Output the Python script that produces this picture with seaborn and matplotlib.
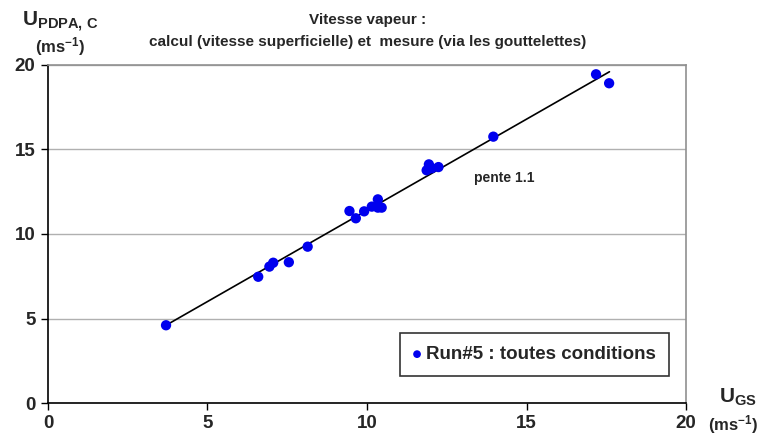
import matplotlib
matplotlib.use("Agg")
import matplotlib.pyplot as plt
import seaborn as sns
import pandas as pd

# vitesse superficielle calculée (U_GS) et vitesse mesurée PDPA
u_gs = [3.70, 6.59, 6.94, 7.06, 7.55, 8.14, 9.45, 9.65, 9.91, 10.15, 10.34, 10.34,
        10.46, 11.87, 11.94, 12.03, 12.24, 13.96, 17.18, 17.59]
u_pdpa = [4.60, 7.47, 8.07, 8.30, 8.33, 9.25, 11.36, 10.93, 11.34, 11.62, 12.05, 11.56,
          11.56, 13.77, 14.12, 13.89, 13.96, 15.76, 19.45, 18.92]

# droite de tendance (pente 1.1)
ligne_x = [3.70, 17.60]
ligne_y = [4.60, 19.60]

x_ticks = [0, 5, 10, 15, 20]
y_ticks = [0, 5, 10, 15, 20]

sns.set_style("white")
plt.rcParams["font.family"] = ["Liberation Sans", "DejaVu Sans"]
plt.rcParams["font.weight"] = "bold"
plt.rcParams["mathtext.fontset"] = "custom"
plt.rcParams["mathtext.rm"] = "Liberation Sans:bold"
plt.rcParams["mathtext.bf"] = "Liberation Sans:bold"
plt.rcParams["mathtext.it"] = "Liberation Sans:bold"

df = pd.DataFrame({"U_GS": u_gs, "U_PDPA": u_pdpa})

fig = plt.figure(figsize=(7.6, 4.41), dpi=100)
ax = fig.add_axes([48 / 760, 1 - 403 / 441, 638 / 760, 338 / 441])

sns.lineplot(x=ligne_x, y=ligne_y, color="black", linewidth=1.2, ax=ax, zorder=2)
sns.scatterplot(data=df, x="U_GS", y="U_PDPA", color="#0000EE", s=55,
                edgecolor="none", label="Run#5 : toutes conditions", ax=ax, zorder=3)

ax.set_xlim(0, 20)
ax.set_ylim(0, 20)
ax.set_xticks(x_ticks)
ax.set_yticks(y_ticks)
ax.set_xlabel("")
ax.set_ylabel("")
ax.yaxis.grid(True, color="#B0B0B0", linewidth=1)
ax.xaxis.grid(False)
ax.set_axisbelow(True)

for s in ["left", "bottom"]:
    ax.spines[s].set_color("black")
    ax.spines[s].set_linewidth(1.2)
for s in ["top", "right"]:
    ax.spines[s].set_color("#909090")
    ax.spines[s].set_linewidth(1.2)

ax.tick_params(axis="both", which="major", direction="out", length=5, width=1,
               color="black", labelsize=13.5, pad=4, bottom=True, left=True)
for lab in ax.get_xticklabels() + ax.get_yticklabels():
    lab.set_fontweight("bold")

leg = ax.legend(loc="center", bbox_to_anchor=(0.763, 0.1435), frameon=True,
                fancybox=False, edgecolor="black", fontsize=13.5, markerscale=0.75,
                handletextpad=0.3, borderpad=0.7, handlelength=0.4)
leg.get_frame().set_linewidth(1.2)

ax.text(13.35, 13.3, "pente 1.1", fontsize=10, fontweight="bold", ha="left", va="center")

fig.text(368 / 760, 1 - 20 / 441, "Vitesse vapeur :", ha="center", va="center",
         fontsize=11, fontweight="bold")
fig.text(368 / 760, 1 - 42 / 441, "calcul (vitesse superficielle) et  mesure (via les gouttelettes)",
         ha="center", va="center", fontsize=11, fontweight="bold")

fig.text(22 / 760, 1 - 22 / 441, r"U$_{\mathrm{PDPA,\,C}}$", ha="left", va="center", fontsize=15)
fig.text(35 / 760, 1 - 47 / 441, r"(ms$^{-1}$)", ha="left", va="center", fontsize=12)
fig.text(757 / 760, 1 - 397 / 441, r"U$_{\mathrm{GS}}$", ha="right", va="center", fontsize=15)
fig.text(758 / 760, 1 - 425 / 441, r"(ms$^{-1}$)", ha="right", va="center", fontsize=12)

fig.savefig("out.png", dpi=100)
